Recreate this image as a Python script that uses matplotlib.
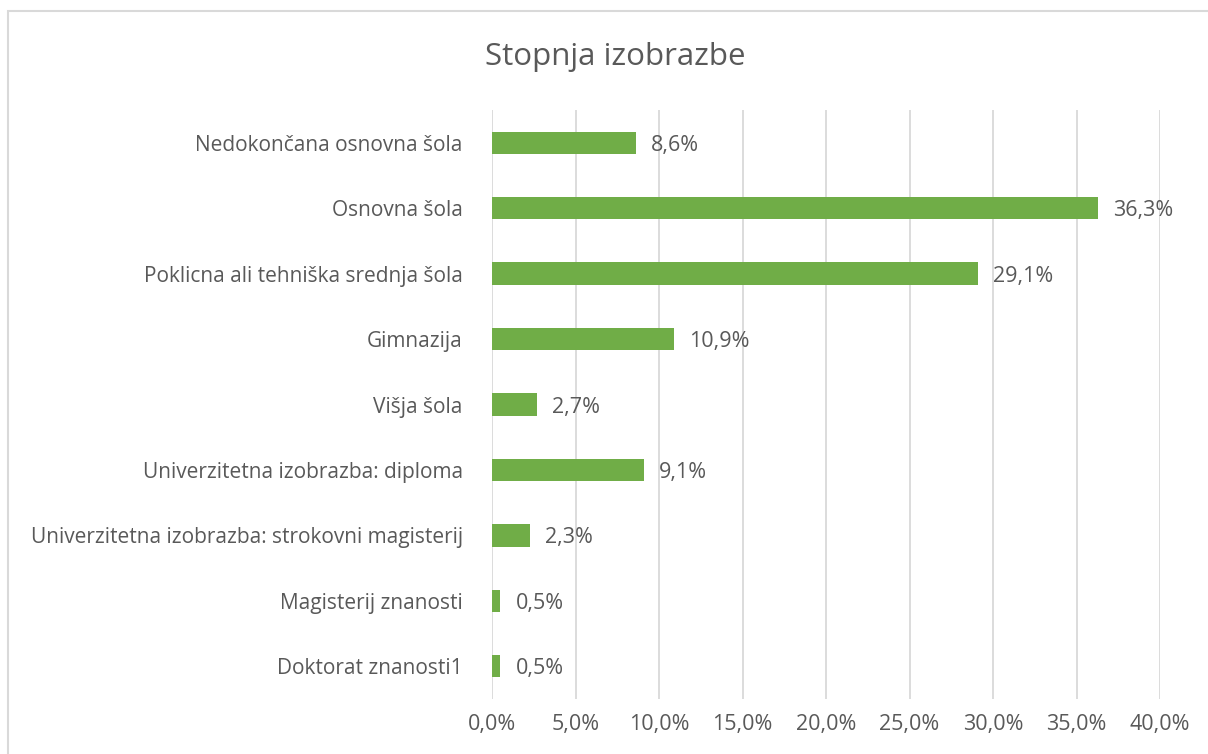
import matplotlib
matplotlib.use("Agg")
import matplotlib.pyplot as plt
from matplotlib.patches import Rectangle

categories = [
    "Nedokončana osnovna šola",
    "Osnovna šola",
    "Poklicna ali tehniška srednja šola",
    "Gimnazija",
    "Višja šola",
    "Univerzitetna izobrazba: diploma",
    "Univerzitetna izobrazba: strokovni magisterij",
    "Magisterij znanosti",
    "Doktorat znanosti1",
]
values = [8.6, 36.3, 29.1, 10.9, 2.7, 9.1, 2.3, 0.5, 0.5]
ticks = [0, 5, 10, 15, 20, 25, 30, 35, 40]

plt.rcParams['font.family'] = ['Open Sans', 'DejaVu Sans']
text_col = "#595959"

fig = plt.figure(figsize=(12.08, 7.54), dpi=100)
ax = fig.add_axes([492 / 1208, 1 - 699 / 754, (1160 - 492) / 1208, (699 - 110) / 754])

y = list(range(len(categories)))
ax.barh(y, values, height=0.34, color="#70AD47", zorder=3)
for yi, v in zip(y, values):
    ax.text(v + 0.9, yi, f"{v:.1f}%".replace(".", ","), va="center_baseline", ha="left",
            fontsize=15.5, color=text_col)

ax.set_ylim(len(categories) - 0.5, -0.5)
ax.set_xlim(0, 40)
ax.set_yticks(y)
ax.set_yticklabels(categories, fontsize=15, color=text_col)
ax.set_xticks(ticks)
ax.set_xticklabels([f"{t:.1f}%".replace(".", ",") for t in ticks], fontsize=15.5, color=text_col)
ax.tick_params(length=0)
ax.tick_params(axis="y", pad=21)
ax.tick_params(axis="x", pad=11)
ax.grid(axis="x", color="#D9D9D9", linewidth=1.3, zorder=0)
for s in ax.spines.values():
    s.set_visible(False)

fig.text(615 / 1208, 1 - 57 / 754, "Stopnja izobrazbe", ha="center", va="center",
         fontsize=22.5, color=text_col)

# chart-area border (runs off the right and bottom of the image)
fig.patches.append(Rectangle((8 / 1208, -0.05), 1.1, 1 - 11 / 754 + 0.05,
                             transform=fig.transFigure, fill=False,
                             edgecolor="#D9D9D9", linewidth=1.5))

fig.savefig("out.png", dpi=100, facecolor="white")
